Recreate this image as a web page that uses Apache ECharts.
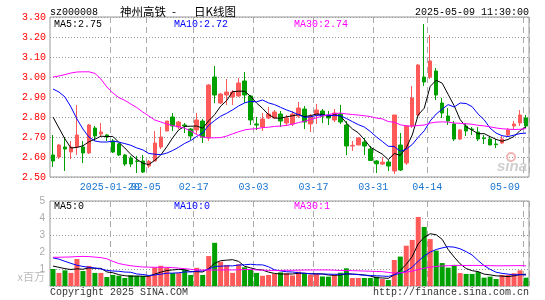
<!DOCTYPE html>
<html><head><meta charset="utf-8">
<script src="https://cdn.jsdelivr.net/npm/echarts/dist/echarts.min.js"></script>
<style>html,body{margin:0;padding:0;background:#fff}#c{width:545px;height:300px}</style>
</head><body><div id="c"></div><script>
const dates = ['2025-01-06','2025-01-07','2025-01-08','2025-01-09','2025-01-10','2025-01-13','2025-01-14','2025-01-15','2025-01-16','2025-01-17','2025-01-20','2025-01-21','2025-01-22','2025-01-23','2025-01-24','2025-01-27',
'2025-02-05','2025-02-06','2025-02-07','2025-02-10','2025-02-11','2025-02-12','2025-02-13','2025-02-14','2025-02-17','2025-02-18','2025-02-19','2025-02-20','2025-02-21','2025-02-24','2025-02-25','2025-02-26','2025-02-27','2025-02-28',
'2025-03-03','2025-03-04','2025-03-05','2025-03-06','2025-03-07','2025-03-10','2025-03-11','2025-03-12','2025-03-13','2025-03-14','2025-03-17','2025-03-18','2025-03-19','2025-03-20','2025-03-21','2025-03-24','2025-03-25','2025-03-26','2025-03-27','2025-03-28','2025-03-31',
'2025-04-01','2025-04-02','2025-04-03','2025-04-07','2025-04-08','2025-04-09','2025-04-10','2025-04-11','2025-04-14','2025-04-15','2025-04-16','2025-04-17','2025-04-18','2025-04-21','2025-04-22','2025-04-23','2025-04-24','2025-04-25','2025-04-28','2025-04-29','2025-04-30',
'2025-05-06','2025-05-07','2025-05-08','2025-05-09'];
const tickDates = ['2025-01-20','2025-02-05','2025-02-17','2025-03-03','2025-03-17','2025-03-31','2025-04-14','2025-05-09'];
const tickLabels = ['2025-01-20','02-05','02-17','03-03','03-17','03-31','04-14','05-09'];

const open = [2.61,2.60,2.65,2.625,2.65,2.65,2.62,2.745,2.715,2.71, 2.68,2.665,2.61,2.595,2.58,2.58,2.555,2.58,2.65,2.73, 2.80,2.75,2.76,2.74,2.735,2.78,2.695,3.00,2.87,2.91, 2.90,2.905,2.98,2.905,2.765,2.75,2.795,2.795,2.815,2.77, 2.765,2.805,2.84,2.765,2.81,2.83,2.81,2.785,2.815,2.76, 2.655,2.66,2.675,2.64,2.58,2.565,2.575,2.53,2.66,2.57, 2.755,2.81,3.00,3.00,3.03,2.87,2.805,2.765,2.69,2.755, 2.74,2.725,2.695,2.69,2.665,2.67,2.71,2.755,2.77,2.795];
const close = [2.58,2.66,2.64,2.65,2.71,2.62,2.76,2.705,2.725,2.70, 2.625,2.61,2.565,2.565,2.578,2.525,2.578,2.67,2.70,2.78, 2.755,2.775,2.755,2.705,2.785,2.70,2.96,2.91,2.915,2.925, 2.925,2.97,2.91,2.785,2.76,2.79,2.815,2.825,2.78,2.795, 2.815,2.845,2.775,2.805,2.835,2.805,2.795,2.82,2.775,2.655, 2.658,2.695,2.655,2.583,2.566,2.574,2.555,2.81,2.535,2.755, 2.895,3.06,2.975,3.08,2.91,2.82,2.78,2.69,2.735,2.73, 2.737,2.69,2.692,2.66,2.662,2.69,2.735,2.765,2.81,2.755];
const low = [2.55,2.59,2.53,2.59,2.61,2.57,2.615,2.68,2.70,2.68, 2.62,2.605,2.555,2.55,2.52,2.52,2.545,2.58,2.64,2.73, 2.73,2.74,2.72,2.685,2.715,2.67,2.68,2.87,2.865,2.86, 2.86,2.90,2.87,2.76,2.735,2.73,2.79,2.79,2.75,2.755, 2.755,2.795,2.74,2.725,2.765,2.77,2.76,2.775,2.765,2.61, 2.63,2.66,2.61,2.58,2.52,2.56,2.53,2.515,2.53,2.56, 2.745,2.805,2.955,2.99,2.885,2.795,2.76,2.68,2.685,2.705, 2.71,2.68,2.665,2.66,2.645,2.665,2.705,2.735,2.755,2.745];
const high = [2.71,2.665,2.70,2.68,2.86,2.68,2.765,2.755,2.77,2.715, 2.69,2.67,2.615,2.605,2.605,2.61,2.585,2.73,2.75,2.78, 2.82,2.78,2.77,2.745,2.82,2.79,2.965,3.055,2.92,2.99, 2.935,2.995,3.025,2.91,2.80,2.82,2.85,2.835,2.83,2.81, 2.83,2.875,2.855,2.815,2.865,2.84,2.83,2.84,2.86,2.78, 2.68,2.70,2.695,2.655,2.585,2.60,2.585,2.81,2.72,2.76, 2.955,3.065,3.265,3.21,3.045,2.895,2.845,2.78,2.74,2.77, 2.75,2.75,2.71,2.705,2.69,2.705,2.745,2.78,2.835,2.81];
const volume = [1.00,0.77,0.92,0.77,1.59,0.88,1.18,0.77,0.77,0.53, 0.65,0.60,0.47,0.63,0.59,0.59,0.59,1.10,1.19,1.08, 0.76,0.76,0.98,0.65,1.07,0.65,1.76,2.54,1.43,1.23, 0.77,1.27,1.10,0.96,0.77,0.60,0.65,0.72,0.80,0.75, 0.62,0.84,0.75,0.67,0.71,0.56,0.55,0.65,0.78,1.04, 0.47,0.47,0.47,0.47,0.55,0.41,0.35,1.53,1.73,2.37, 2.71,4.06,3.47,2.76,2.08,1.35,1.08,1.24,0.76,0.71, 0.71,0.82,0.49,0.55,0.41,0.65,0.65,0.75,0.92,0.49];

const ma5Head = [2.80,2.745,2.69,2.645];
const ma10Head = [2.94,2.925,2.90,2.85,2.79,2.74,2.70,2.68,2.675];
const ma30Head = [3.00,3.005,3.012,3.02,3.025,3.026,3.026,3.018,2.99,2.95, 2.92,2.897,2.883,2.865,2.847,2.825,2.805,2.785,2.775,2.765, 2.757,2.751,2.744,2.73,2.712,2.70,2.696,2.696,2.697];
const volMa5Head = [1.17,1.10,1.02,0.97];
const volMa10Head = [1.65,1.58,1.45,1.33,1.22,1.15,1.10,1.06,1.00];
const volMa30Head = [1.69,1.69,1.70,1.71,1.73,1.74,1.73,1.70,1.67,1.60, 1.45,1.32,1.25,1.19,1.15,1.12,1.11,1.10,1.10,1.10, 1.08,1.05,1.02,0.98,0.95,0.94,0.94,0.94,0.94];

function movingAvg(src, n, head) {
  return src.map((v, i) => {
    if (i < n - 1) return head[i];
    let s = 0; for (let k = i - n + 1; k <= i; k++) s += src[k];
    return +(s / n).toFixed(4);
  });
}
const ma5 = movingAvg(close, 5, ma5Head), ma10 = movingAvg(close, 10, ma10Head), ma30 = movingAvg(close, 30, ma30Head);
const vma5 = movingAvg(volume, 5, volMa5Head), vma10 = movingAvg(volume, 10, volMa10Head), vma30 = movingAvg(volume, 30, volMa30Head);

const tickIdx = tickDates.map(d => dates.indexOf(d));
const isTick = i => tickIdx.indexOf(i) >= 0;
// labels split over two axes (alternating) so neighbouring labels may overlap like the original
const isTickA = i => tickIdx.indexOf(i) >= 0 && tickIdx.indexOf(i) % 2 === 0;
const isTickB = i => tickIdx.indexOf(i) >= 0 && tickIdx.indexOf(i) % 2 === 1;
const labelOf = {}; tickDates.forEach((d, k) => labelOf[d] = tickLabels[k]);
const RED = '#ff5a5a', GREEN = '#00a000';
const MONO = '"Liberation Mono","DejaVu Sans Mono",monospace';
const CJK = '"Noto Sans CJK SC",sans-serif';
const last = a => a[a.length - 1];

const kData = dates.map((d, i) => [open[i], close[i], low[i], high[i]]);
const vData = volume.map((v, i) => ({ value: v, itemStyle: { color: close[i] >= open[i] ? RED : GREEN } }));

const vGrid = { show: true, interval: i => isTick(i), lineStyle: { color: '#aaa', type: [6, 4], width: 1 } };
const hGrid = { show: true, lineStyle: { color: '#999', type: [1, 2], width: 1 } };
const lblBase = { formatter: v => labelOf[v] || '', color: '#1a75cf', fontFamily: MONO, fontSize: 10, margin: 5, padding: [0, 6, 0, 0], hideOverlap: false };

function txt(text, x, y, fill, font, align) {
  return { type: 'text', z: 100, style: { text: text, x: x, y: y, fill: fill, font: font, textAlign: align || 'left', textVerticalAlign: 'middle', align: align || 'left', verticalAlign: 'middle' } };
}
function line(name, data, color, xi) {
  return { name: name, type: 'line', xAxisIndex: xi, yAxisIndex: xi, data: data, showSymbol: false, symbol: 'none', smooth: false,
    lineStyle: { color: color, width: 1 }, itemStyle: { color: color }, silent: true };
}

const chart = echarts.init(document.getElementById('c'), null, { renderer: 'canvas' });
chart.setOption({
  animation: false,
  backgroundColor: '#fff',
  grid: [
    { left: 50, top: 17, width: 479, height: 160, show: true, borderColor: '#999', borderWidth: 1, containLabel: false },
    { left: 50, top: 201, width: 479, height: 85, show: true, borderColor: '#999', borderWidth: 1, containLabel: false }
  ],
  xAxis: [
    { type: 'category', gridIndex: 0, data: dates, boundaryGap: true,
      axisLine: { show: false }, axisTick: { show: false },
      axisLabel: Object.assign({}, lblBase, { interval: i => isTickA(i) }),
      splitLine: vGrid },
    { type: 'category', gridIndex: 1, data: dates, boundaryGap: true,
      axisLine: { show: false }, axisTick: { show: false }, axisLabel: { show: false }, splitLine: vGrid },
    { type: 'category', gridIndex: 0, data: dates, boundaryGap: true, position: 'bottom',
      axisLine: { show: false }, axisTick: { show: false },
      axisLabel: Object.assign({}, lblBase, { interval: i => isTickB(i), alignMaxLabel: 'right', showMaxLabel: true }),
      splitLine: { show: false } }
  ],
  yAxis: [
    { type: 'value', gridIndex: 0, min: 2.5, max: 3.3, interval: 0.1,
      axisLine: { show: false }, axisTick: { show: false },
      axisLabel: { color: '#ff0000', fontFamily: MONO, fontSize: 10, margin: 4, formatter: v => v.toFixed(2) },
      splitLine: hGrid },
    { type: 'value', gridIndex: 1, min: 0, max: 5, interval: 1,
      axisLine: { show: false }, axisTick: { show: false },
      axisLabel: { color: '#aaa', fontFamily: '"Liberation Sans",sans-serif', fontSize: 10, margin: 5, formatter: v => v === 0 ? '' : String(v) },
      splitLine: hGrid }
  ],
  series: [
    { type: 'candlestick', xAxisIndex: 0, yAxisIndex: 0, data: kData, barWidth: 4,
      itemStyle: { color: RED, color0: GREEN, borderColor: RED, borderColor0: GREEN, borderWidth: 1 }, silent: true },
    line('MA5', ma5, '#000000', 0),
    line('MA10', ma10, '#0000ff', 0),
    line('MA30', ma30, '#ff00ff', 0),
    { type: 'bar', xAxisIndex: 1, yAxisIndex: 1, data: vData, barWidth: 5, silent: true },
    line('VMA5', vma5, '#000000', 1),
    line('VMA10', vma10, '#0000ff', 1),
    line('VMA30', vma30, '#ff00ff', 1)
  ],
  graphic: [
    txt('sz000008', 50, 12, '#000', '10px ' + MONO),
    txt('神州高铁', 120, 12, '#000', '11.5px ' + CJK),
    txt('-', 172, 12, '#000', '11.5px ' + CJK),
    txt('日K线图', 194, 12, '#000', '11.5px ' + CJK),
    txt('2025-05-09 11:30:00', 529, 12, '#000', '10px ' + MONO, 'right'),
    txt('MA5:' + last(ma5).toFixed(2), 54, 24, '#000', '10px ' + MONO),
    txt('MA10:' + last(ma10).toFixed(2), 174, 24, '#0000ff', '10px ' + MONO),
    txt('MA30:' + last(ma30).toFixed(2), 294, 24, '#ff00ff', '10px ' + MONO),
    txt('MA5:' + Math.floor(last(vma5)), 54, 206, '#000', '10px ' + MONO),
    txt('MA10:' + Math.floor(last(vma10)), 174, 206, '#0000ff', '10px ' + MONO),
    txt('MA30:' + Math.floor(last(vma30)), 294, 206, '#ff00ff', '10px ' + MONO),
    txt('x百万', 45, 277, '#bbb', '11px ' + CJK, 'right'),
    txt('Copyright 2025 SINA.COM', 50, 292, '#333', '10px ' + MONO),
    txt('http://finance.sina.com.cn', 529, 292, '#333', '10px ' + MONO, 'right'),
    { type: 'circle', z: 1, shape: { cx: 511, cy: 157, r: 4 }, style: { fill: 'none', stroke: '#f2b6b6', lineWidth: 2 } },
    txt('sina', 497, 167, '#cfcfcf', 'italic bold 15px "Liberation Sans",sans-serif')
  ]
});
</script></body></html>
